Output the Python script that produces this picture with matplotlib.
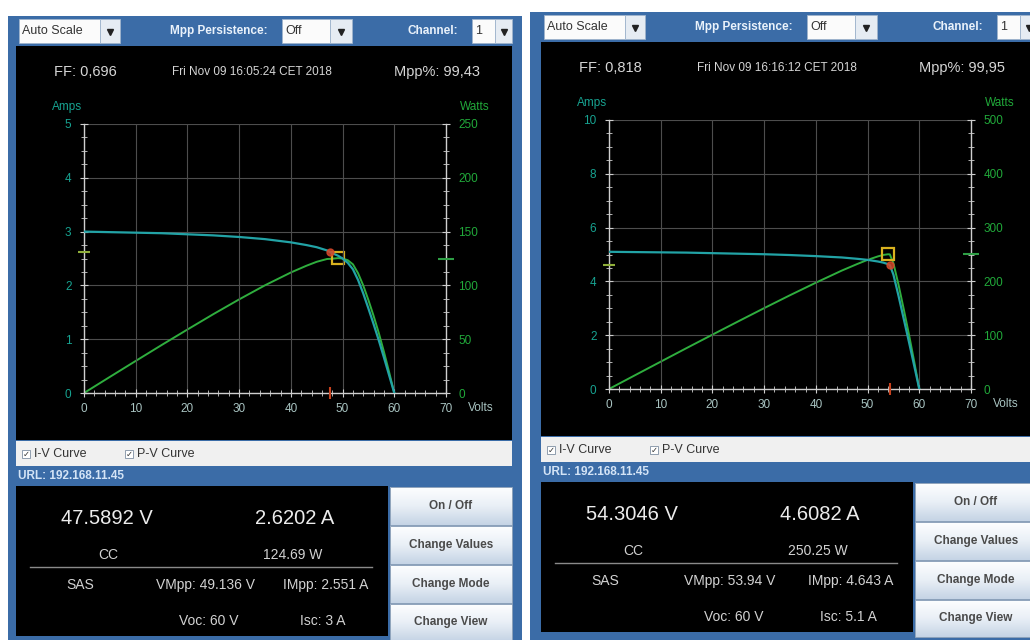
import numpy as np
import matplotlib
matplotlib.use("Agg")
import matplotlib.pyplot as plt
from matplotlib.patches import Rectangle
from matplotlib.colors import LinearSegmentedColormap
from matplotlib.ticker import MultipleLocator

plt.rcParams["font.family"] = ["Liberation Sans", "DejaVu Sans"]

WIDTH, HEIGHT = 1030, 640

# first capture, channel 1
LEFT_VOLTS = [0, 5, 10, 15, 20, 25, 30, 35, 40, 43, 45, 47, 47.5892, 48, 49.136,
              50, 51, 52, 53, 54, 55, 56, 57, 58, 59, 60]
LEFT_AMPS = [3.00, 2.99, 2.98, 2.97, 2.95, 2.93, 2.90, 2.86, 2.80, 2.75, 2.71, 2.65, 2.6202, 2.60, 2.551,
             2.50, 2.42, 2.30, 2.10, 1.85, 1.57, 1.28, 0.98, 0.66, 0.33, 0.00]
LEFT_V_OUT = 47.5892
LEFT_I_OUT = 2.6202
LEFT_P_OUT = 124.69
LEFT_VMPP = 49.136
LEFT_IMPP = 2.551
LEFT_VOC = 60
LEFT_ISC = 3
LEFT_FF = 0.696
LEFT_MPP_PCT = 99.43
LEFT_STAMP = "Fri Nov 09 16:05:24 CET 2018"
LEFT_AMPS_MAX = 5
LEFT_WATTS_MAX = 250

# second capture, channel 1
RIGHT_VOLTS = [0, 5, 10, 15, 20, 25, 30, 35, 40, 45, 48, 50, 52, 53, 53.94, 54.3046,
               55, 56, 57, 58, 59, 60]
RIGHT_AMPS = [5.10, 5.09, 5.08, 5.07, 5.05, 5.03, 5.01, 4.98, 4.94, 4.89, 4.84, 4.80, 4.74, 4.70, 4.643, 4.6082,
              4.25, 3.45, 2.60, 1.75, 0.88, 0.00]
RIGHT_V_OUT = 54.3046
RIGHT_I_OUT = 4.6082
RIGHT_P_OUT = 250.25
RIGHT_VMPP = 53.94
RIGHT_IMPP = 4.643
RIGHT_VOC = 60
RIGHT_ISC = 5.1
RIGHT_FF = 0.818
RIGHT_MPP_PCT = 99.95
RIGHT_STAMP = "Fri Nov 09 16:16:12 CET 2018"
RIGHT_AMPS_MAX = 10
RIGHT_WATTS_MAX = 500

BUTTONS = ["On / Off", "Change Values", "Change Mode", "Change View"]
URL = "URL: 192.168.11.45"

FRAME = "#3b6ca7"
IV_COLOR = "#22a3a6"
PV_COLOR = "#2fae3e"
AMPS_TEXT = "#17a391"
WATTS_TEXT = "#21a93a"
AXIS_GRAY = "#cfcfcf"
GRID = "#4d4d4d"

BUTTON_CMAP = LinearSegmentedColormap.from_list("btn", ["#fdfeff", "#e9eff6", "#c5d4e5"])


def px_rect(x0, y0, x1, y1):
    return [x0 / WIDTH, 1 - y1 / HEIGHT, (x1 - x0) / WIDTH, (y1 - y0) / HEIGHT]


def block(bg, x0, y0, x1, y1, color, ec="none", lw=0, z=1):
    bg.add_patch(Rectangle((x0, y0), x1 - x0, y1 - y0, facecolor=color,
                           edgecolor=ec, lw=lw, zorder=z))


def combo(bg, x0, xa, x1, y0, y1, label):
    block(bg, x0, y0, xa, y1, "#fbfbfb", ec="#9fb4cc", lw=0.6, z=2)
    block(bg, xa, y0, x1, y1, "#e6ecf3", ec="#9fb4cc", lw=0.6, z=2)
    bg.text(x0 + 3, (y0 + y1) / 2, label, ha="left", va="center",
            fontsize=9, color="#333333", zorder=3)
    bg.plot((xa + x1) / 2, (y0 + y1) / 2 + 1, marker="v", ms=4, color="#222222", zorder=3)


def button(bg, x0, y0, x1, y1, label):
    grad = np.linspace(0, 1, 64).reshape(-1, 1)
    bg.imshow(grad, extent=(x0, x1, y1, y0), cmap=BUTTON_CMAP, aspect="auto", zorder=2)
    block(bg, x0, y0, x1, y1, "none", ec="#8ea3bb", lw=0.7, z=3)
    bg.text((x0 + x1) / 2, (y0 + y1) / 2, label, ha="center", va="center",
            fontsize=8.5, fontweight="bold", color="#4a4a4a", zorder=4)


def checkbox(bg, x, y, label):
    block(bg, x, y - 4, x + 8, y + 4, "white", ec="#7f8fa3", lw=0.6, z=3)
    bg.text(x + 4, y, "\u2713", ha="center", va="center", fontsize=6,
            color="#333333", family="DejaVu Sans", zorder=4)
    bg.text(x + 12, y, label, ha="left", va="center", fontsize=9, color="#333333", zorder=4)


def draw_screen(fig, bg, dx, dy, left_edge, r):
    def X(x):
        return x + dx

    def Y(y):
        return y + dy

    # outer frame and toolbar
    block(bg, left_edge, Y(16), X(522), HEIGHT, FRAME)
    combo(bg, X(19), X(100), X(120), Y(19), Y(43), "Auto Scale")
    bg.text(X(268), Y(31), "Mpp Persistence:", ha="right", va="center",
            fontsize=8.5, fontweight="bold", color="#eaf2fb", zorder=3)
    combo(bg, X(282), X(330), X(352), Y(19), Y(43), "Off")
    bg.text(X(458), Y(31), "Channel:", ha="right", va="center",
            fontsize=8.5, fontweight="bold", color="#eaf2fb", zorder=3)
    combo(bg, X(472), X(495), X(512), Y(19), Y(43), "1")

    # chart area
    block(bg, X(16), Y(46), X(512), Y(440), "black")
    head = dict(ha="center", va="center", color="#d6d6d6", zorder=3)
    bg.text(X(85), Y(72), "FF: " + f"{r['ff']:.3f}".replace(".", ","), fontsize=10.5, **head)
    bg.text(X(252), Y(72), r["stamp"], fontsize=8.5, **head)
    bg.text(X(437), Y(72), "Mpp%: " + f"{r['mpp_pct']:.2f}".replace(".", ","), fontsize=10.5, **head)
    bg.text(X(67), Y(107), "Amps", ha="center", va="center", fontsize=8.5, color=AMPS_TEXT, zorder=3)
    bg.text(X(475), Y(107), "Watts", ha="center", va="center", fontsize=8.5, color=WATTS_TEXT, zorder=3)
    bg.text(X(468), Y(408), "Volts", ha="left", va="center", fontsize=8.5, color="#a9c4c2", zorder=3)

    volts = np.array(r["volts"])
    amps = np.array(r["amps"])
    watts = volts * amps

    ax = fig.add_axes(px_rect(X(84), Y(124), X(446), Y(393)))
    ax2 = ax.twinx()
    ax.set_zorder(ax2.get_zorder() + 1)
    ax.patch.set_visible(False)
    ax2.set_facecolor("black")

    ax.set_xlim(0, 70)
    ax.set_ylim(0, r["amps_max"])
    ax2.set_ylim(0, r["watts_max"])
    ax.xaxis.set_major_locator(MultipleLocator(10))
    ax.xaxis.set_minor_locator(MultipleLocator(2))
    ax.yaxis.set_major_locator(MultipleLocator(r["amps_max"] / 5))
    ax.yaxis.set_minor_locator(MultipleLocator(r["amps_max"] / 20))
    ax2.yaxis.set_major_locator(MultipleLocator(r["watts_max"] / 5))
    ax2.yaxis.set_minor_locator(MultipleLocator(r["watts_max"] / 20))

    ax2.grid(True, which="major", color=GRID, lw=0.8)
    ax2.xaxis.grid(False)
    ax.grid(True, which="major", axis="x", color=GRID, lw=0.8)
    ax.set_axisbelow(True)

    for a in (ax, ax2):
        for side in a.spines:
            a.spines[side].set_visible(False)
    ax.spines["left"].set_visible(True)
    ax.spines["bottom"].set_visible(True)
    ax2.spines["right"].set_visible(True)
    for sp in (ax.spines["left"], ax.spines["bottom"], ax2.spines["right"]):
        sp.set_color(AXIS_GRAY)
        sp.set_linewidth(1)

    tick = dict(direction="inout", color=AXIS_GRAY, labelsize=8.5)
    ax.tick_params(axis="x", which="major", length=6, pad=4, labelcolor="#a9c4c2", **tick)
    ax.tick_params(axis="x", which="minor", length=4, direction="inout", color=AXIS_GRAY)
    ax.tick_params(axis="y", which="major", length=6, pad=6, labelcolor=AMPS_TEXT, **tick)
    ax.tick_params(axis="y", which="minor", length=4, direction="inout", color=AXIS_GRAY)
    ax2.tick_params(axis="y", which="major", length=6, pad=6, labelcolor=WATTS_TEXT, **tick)
    ax2.tick_params(axis="y", which="minor", length=4, direction="inout", color=AXIS_GRAY)

    # curves
    ax2.plot(volts, watts, color=PV_COLOR, lw=1.4, zorder=3)
    ax.plot(volts, amps, color=IV_COLOR, lw=1.6, zorder=3)

    # maximum power point and present operating point
    ax2.plot(r["vmpp"], r["vmpp"] * r["impp"], marker="s", ms=8, mfc="none",
             mec="#d9b21f", mew=1.6, zorder=5)
    ax.plot(r["v_out"], r["i_out"], marker="o", ms=5, color="#d5472a", alpha=0.85, zorder=6)

    # operating point indicators on the axes
    ax.plot(0, r["i_out"], marker="_", ms=9, mew=1.5, color="#8fae3a", clip_on=False, zorder=7)
    ax2.plot(70, r["p_out"], marker="_", ms=12, mew=1.5, color="#2e9f45", clip_on=False, zorder=7)
    ax.plot(r["v_out"], 0, marker="|", ms=9, mew=1.5, color="#c8421e", clip_on=False, zorder=7)

    # checkbox strip and URL bar
    block(bg, X(16), Y(441), X(512), Y(466), "#f0f0f0")
    checkbox(bg, X(22), Y(454), "I-V Curve")
    checkbox(bg, X(125), Y(454), "P-V Curve")
    bg.text(X(18), Y(476), URL, ha="left", va="center", fontsize=8.5,
            fontweight="bold", color="#d4e4f6", zorder=3)

    # readout panel
    block(bg, X(16), Y(486), X(388), Y(636), "black")
    big = dict(ha="center", va="center", fontsize=14.5, color="#ececec", zorder=3)
    small = dict(ha="center", va="center", fontsize=10, color="#d2d2d2", zorder=3)
    bg.text(X(107), Y(518), f"{r['v_out']:.4f} V", **big)
    bg.text(X(295), Y(518), f"{r['i_out']:.4f} A", **big)
    bg.text(X(108), Y(555), "CC", **small)
    bg.text(X(293), Y(555), f"{r['p_out']:.2f} W", **small)
    bg.plot([X(30), X(372)], [Y(567), Y(567)], color="#8a8a8a", lw=1, zorder=3)
    bg.text(X(80), Y(585), "SAS", **small)
    bg.text(X(205), Y(585), f"VMpp: {r['vmpp']:g} V", **small)
    bg.text(X(326), Y(585), f"IMpp: {r['impp']:g} A", **small)
    bg.text(X(209), Y(621), f"Voc: {r['voc']:g} V", **small)
    bg.text(X(323), Y(621), f"Isc: {r['isc']:g} A", **small)

    # buttons
    rows = [(487, 525), (526, 564), (565, 603), (604, 641)]
    for label, (y0, y1) in zip(BUTTONS, rows):
        button(bg, X(390), Y(y0), X(512), Y(y1), label)


def main():
    fig = plt.figure(figsize=(WIDTH / 100, HEIGHT / 100), dpi=100, facecolor="white")
    bg = fig.add_axes([0, 0, 1, 1])
    bg.set_axis_off()

    left = dict(volts=LEFT_VOLTS, amps=LEFT_AMPS, v_out=LEFT_V_OUT, i_out=LEFT_I_OUT,
                p_out=LEFT_P_OUT, vmpp=LEFT_VMPP, impp=LEFT_IMPP, voc=LEFT_VOC, isc=LEFT_ISC,
                ff=LEFT_FF, mpp_pct=LEFT_MPP_PCT, stamp=LEFT_STAMP,
                amps_max=LEFT_AMPS_MAX, watts_max=LEFT_WATTS_MAX)
    right = dict(volts=RIGHT_VOLTS, amps=RIGHT_AMPS, v_out=RIGHT_V_OUT, i_out=RIGHT_I_OUT,
                 p_out=RIGHT_P_OUT, vmpp=RIGHT_VMPP, impp=RIGHT_IMPP, voc=RIGHT_VOC, isc=RIGHT_ISC,
                 ff=RIGHT_FF, mpp_pct=RIGHT_MPP_PCT, stamp=RIGHT_STAMP,
                 amps_max=RIGHT_AMPS_MAX, watts_max=RIGHT_WATTS_MAX)

    draw_screen(fig, bg, 0, 0, 8, left)
    draw_screen(fig, bg, 525, -4, 530, right)

    bg.set_xlim(0, WIDTH)
    bg.set_ylim(HEIGHT, 0)
    bg.set_aspect("auto")

    fig.savefig("out.png", dpi=100, facecolor="white")


if __name__ == "__main__":
    main()
